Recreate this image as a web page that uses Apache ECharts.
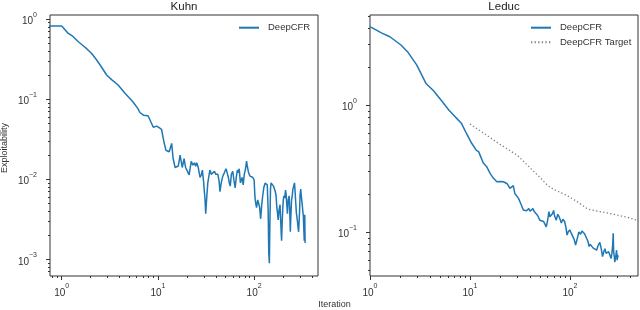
<!DOCTYPE html>
<html><head><meta charset="utf-8">
<script src="https://cdn.jsdelivr.net/npm/echarts@6/dist/echarts.min.js"></script>
<style>html,body{margin:0;padding:0;background:#fff}#c{width:640px;height:310px}</style>
</head><body><div id="c"></div>
<script>
// ---- data ----
const kuhnIter = [0.5,1,1.17,1.3,1.49,1.65,1.84,2.05,2.3,2.6,2.93,3.3,3.86,4.5,5.0,5.52,6.2,6.5,7.06,7.9,8.96,9.3,9.7,10.3,10.9,11.5,12.1,13.1,13.9,14.4,15.1,16.3,17.0,17.9,18.7,19.4,20.3,21.1,22.2,23.1,24,24.7,25.3,26.2,27.4,28.2,29,29.8,30.9,31.4,32.2,33,34.7,35.8,37.5,38.7,40,41,42,43.2,44.2,45.5,47,49,51,52.5,54,55.2,56.5,58,60,61.8,63.5,65.2,67,68.5,70,72,73.5,75,77,79,81,83.5,85,87,90,93,97,100,102,104,106,109,112,114,117,120,123,126,130,133,137,140,142,144,146,148,150,154,159,163,166,169,172,175,178,182,186,189,191,193,196,199,201,204,208,212,215,218,222,226,231,234,238,241,245,249,253,258,263,267,271,275,278,282,286,290,294,297,300,305,310,318,325,332,336,339];
const kuhnExpl = [0.82,0.82,0.66,0.61,0.52,0.47,0.42,0.37,0.31,0.25,0.2,0.175,0.15,0.12,0.105,0.092,0.076,0.068,0.063,0.062,0.0445,0.047,0.046,0.044,0.042,0.03,0.023,0.022,0.028,0.018,0.014,0.0146,0.02,0.014,0.018,0.014,0.0125,0.0113,0.0167,0.015,0.016,0.0145,0.016,0.0142,0.0105,0.0112,0.013,0.0095,0.0055,0.0037,0.006,0.009,0.013,0.0115,0.0113,0.0125,0.0115,0.012,0.0115,0.0095,0.007,0.009,0.0107,0.012,0.0135,0.012,0.0105,0.009,0.0082,0.0115,0.0125,0.0095,0.0078,0.0105,0.013,0.012,0.0135,0.009,0.0093,0.0105,0.0085,0.0115,0.013,0.0168,0.0145,0.0125,0.011,0.0112,0.0105,0.0098,0.006,0.005,0.0044,0.0055,0.0058,0.0045,0.0032,0.0048,0.0063,0.0078,0.0089,0.0092,0.0085,0.004,0.0012,0.00089,0.003,0.0075,0.009,0.0088,0.0082,0.0075,0.007,0.0063,0.0045,0.0038,0.0031,0.0042,0.0048,0.003,0.0022,0.0017,0.003,0.0045,0.0055,0.0062,0.0058,0.0073,0.0065,0.005,0.0037,0.0055,0.0062,0.0045,0.0022,0.0035,0.0055,0.0062,0.0075,0.0082,0.009,0.0068,0.005,0.0038,0.0038,0.003,0.0025,0.0022,0.0021,0.004,0.0062,0.0075,0.006,0.0045,0.0034,0.0017,0.0036,0.0016];

const leducIter = [1,1.3,1.58,2.04,2.4,2.93,3.63,4.3,5.2,6.17,7.2,8.2,9.2,10.4,11.6,12.2,13.6,14.7,15.9,17.2,18.6,20,21.6,23.6,25.1,26.2,27.1,28.2,30.5,32.5,34.2,35.5,36.8,38.8,40,41,42.6,44,45.5,47.5,50,52,54.6,56,58,60,61.6,63,65,67,68.7,70,73,75.5,77.7,80,82,85,88.5,91,93.6,96,99.5,103,107,110,114,118,123,128,132,135,140,146,151,156,160,165,170,178,185,191,199,205,212,218,224,230,237,244,252,258,263,268,271,274,278,281,284,288,293,297,300,303];
const leducExpl = [4.14,3.7,3.45,2.97,2.6,2.07,1.48,1.3,1.08,0.91,0.8,0.72,0.6,0.5,0.44,0.43,0.35,0.327,0.29,0.265,0.249,0.25,0.249,0.24,0.221,0.215,0.232,0.2,0.185,0.165,0.149,0.145,0.147,0.153,0.146,0.143,0.153,0.145,0.141,0.135,0.124,0.128,0.121,0.125,0.110,0.125,0.145,0.132,0.128,0.14,0.148,0.135,0.124,0.138,0.133,0.125,0.118,0.126,0.121,0.11,0.0946,0.1,0.104,0.098,0.097,0.088,0.079,0.088,0.1,0.096,0.102,0.1,0.097,0.095,0.085,0.077,0.08,0.078,0.075,0.074,0.072,0.078,0.083,0.075,0.064,0.07,0.074,0.068,0.067,0.07,0.072,0.062,0.068,0.08,0.0977,0.07,0.064,0.058,0.057,0.065,0.072,0.06,0.066,0.063];

const targetIter = [10,20,30,40,50,60,70,80,90,100,120,140,150,200,300,400,480];
const targetExpl = [0.71,0.49,0.40,0.32,0.27,0.232,0.215,0.205,0.197,0.188,0.172,0.158,0.152,0.145,0.136,0.129,0.123];

const titles = ['Kuhn','Leduc'];
const seriesNames = ['DeepCFR','DeepCFR Target'];

// ---- helpers ----
const lg = Math.log10;
const toLog = (xs, ys) => xs.map((x, i) => [lg(x), lg(ys[i])]);
function majors(a, b) { const r = []; for (let k = Math.ceil(a); k <= Math.floor(b); k++) r.push(k); return r; }
function minors(a, b) { const r = []; for (let e = Math.floor(a) - 1; e <= Math.ceil(b); e++) for (let m = 2; m <= 9; m++) { const v = e + lg(m); if (v > a && v < b) r.push(v); } return r; }
const powLabel = v => { const k = Math.round(v); return '{b|10}{s|' + (k < 0 ? '\u2212' + (-k) : String(k)) + '}'; };

const FONT = 'Liberation Sans, Arial, sans-serif';
const TXT = '#333';
const BLUE = '#1f77b4';
const labelRich = {
  b: { fontSize: 10, fontFamily: FONT, color: TXT, lineHeight: 15, verticalAlign: 'bottom' },
  s: { fontSize: 7, fontFamily: FONT, color: TXT, lineHeight: 8, verticalAlign: 'top' }
};

// axis extents (log10 space)
const ext = [
  { x: [-0.1216, 2.664], y: [-3.209, 0.05] },
  { x: [0, 2.681], y: [-1.346, 0.709] }
];
const grids = [
  { left: 50, top: 15, width: 268, height: 261 },
  { left: 370, top: 15, width: 268, height: 261 }
];

const xAxes = [], yAxes = [];
ext.forEach((e, g) => {
  const common = { type: 'value', gridIndex: g, splitLine: { show: false }, axisLine: { show: false, onZero: false } };
  xAxes.push(Object.assign({}, common, {
    min: e.x[0], max: e.x[1], position: 'bottom',
    axisTick: { show: true, customValues: majors(e.x[0], e.x[1]), length: 4, lineStyle: { color: TXT, width: 1 } },
    axisLabel: { customValues: majors(e.x[0], e.x[1]), formatter: powLabel, rich: labelRich, margin: 7 }
  }));
  xAxes.push(Object.assign({}, common, {
    min: e.x[0], max: e.x[1], position: 'bottom',
    axisTick: { show: true, customValues: minors(e.x[0], e.x[1]), length: 2, lineStyle: { color: TXT, width: 1 } },
    axisLabel: { show: false }
  }));
  yAxes.push(Object.assign({}, common, {
    min: e.y[0], max: e.y[1], position: 'left',
    axisTick: { show: true, customValues: majors(e.y[0], e.y[1]), length: 4, lineStyle: { color: TXT, width: 1 } },
    axisLabel: { customValues: majors(e.y[0], e.y[1]), formatter: powLabel, rich: labelRich, margin: 13 }
  }));
  yAxes.push(Object.assign({}, common, {
    min: e.y[0], max: e.y[1], position: 'left',
    axisTick: { show: true, customValues: minors(e.y[0], e.y[1]), length: 2, lineStyle: { color: TXT, width: 1 } },
    axisLabel: { show: false }
  }));
});

const legendCommon = { orient: 'vertical', itemWidth: 20, itemHeight: 10, padding: 0,
  itemStyle: { opacity: 0 },
  textStyle: { fontSize: 9.5, fontFamily: FONT, color: TXT, padding: [0, 0, 0, 4] } };

const chart = echarts.init(document.getElementById('c'), null, { renderer: 'canvas' });
chart.setOption({
  animation: false,
  backgroundColor: '#fff',
  grid: grids.map(g => Object.assign({ show: true, borderColor: '#333', borderWidth: 1, backgroundColor: 'transparent', containLabel: false, outerBoundsMode: 'none' }, g)),
  xAxis: xAxes,
  yAxis: yAxes,
  legend: [
    Object.assign({ data: [seriesNames[0]], left: 238, top: 22.7, itemGap: 4.5 }, legendCommon),
    Object.assign({ data: [seriesNames[0], seriesNames[1]], left: 530, top: 22.7, itemGap: 4.6 }, legendCommon)
  ],
  graphic: [
    { type: 'text', x: 184, y: 7, style: { text: titles[0], font: '11.5px ' + FONT, fill: '#222', align: 'center', verticalAlign: 'middle' } },
    { type: 'text', x: 504, y: 7, style: { text: titles[1], font: '11.5px ' + FONT, fill: '#222', align: 'center', verticalAlign: 'middle' } },
    { type: 'text', x: 5, y: 148, rotation: Math.PI / 2, style: { text: 'Exploitability', font: '9px ' + FONT, fill: TXT, align: 'center', verticalAlign: 'middle' } },
    { type: 'text', x: 334.5, y: 305, style: { text: 'Iteration', font: '9px ' + FONT, fill: TXT, align: 'center', verticalAlign: 'middle' } }
  ],
  series: [
    { name: seriesNames[0], type: 'line', xAxisIndex: 0, yAxisIndex: 0, data: toLog(kuhnIter, kuhnExpl),
      symbol: 'none', clip: true, lineStyle: { color: BLUE, width: 1.5 }, itemStyle: { color: BLUE } },
    { name: seriesNames[0], type: 'line', xAxisIndex: 2, yAxisIndex: 2, data: toLog(leducIter, leducExpl),
      symbol: 'none', clip: true, lineStyle: { color: BLUE, width: 1.5 }, itemStyle: { color: BLUE } },
    { name: seriesNames[1], type: 'line', xAxisIndex: 2, yAxisIndex: 2, data: toLog(targetIter, targetExpl),
      symbol: 'none', clip: true, lineStyle: { color: '#808080', width: 1.3, type: [1.3, 2.3] }, itemStyle: { color: '#808080' } }
  ]
});
</script></body></html>
